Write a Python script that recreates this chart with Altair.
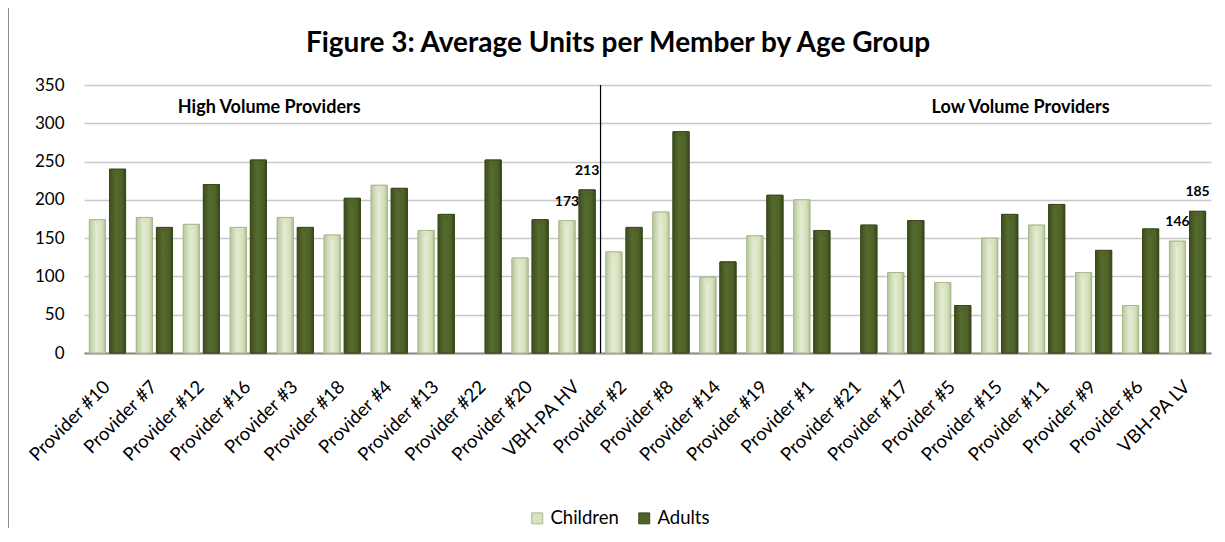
import altair as alt
import pandas as pd

categories = ["Provider #10", "Provider #7", "Provider #12", "Provider #16", "Provider #3",
              "Provider #18", "Provider #4", "Provider #13", "Provider #22", "Provider #20",
              "VBH-PA HV", "Provider #2", "Provider #8", "Provider #14", "Provider #19",
              "Provider #1", "Provider #21", "Provider #17", "Provider #5", "Provider #15",
              "Provider #11", "Provider #9", "Provider #6", "VBH-PA LV"]
children = [174, 177, 168, 164, 177, 154, 219, 160, None, 124, 173,
            132, 184, 99, 153, 200, None, 105, 92, 150, 167, 105, 62, 146]
adults = [240, 164, 220, 252, 164, 202, 215, 181, 252, 174, 213,
          164, 289, 119, 206, 160, 167, 173, 62, 181, 194, 134, 162, 185]
series = ["Children", "Adults"]
y_ticks = [0, 50, 100, 150, 200, 250, 300, 350]
labelled = ["VBH-PA HV", "VBH-PA LV"]
group_names = ["High Volume Providers", "Low Volume Providers"]
group_anchor = ["Provider #3", "Provider #11"]
group_y = [320, 320]
divider_at = ["Provider #2"]
title_text = "Figure 3: Average Units per Member by Age Group"

FONT = "Lato"
W, H = 1127, 268

rows = []
for c, ch, ad in zip(categories, children, adults):
    rows.append({"cat": c, "series": "Children", "value": ch})
    rows.append({"cat": c, "series": "Adults", "value": ad})
df = pd.DataFrame(rows)
lab_df = df[df["cat"].isin(labelled)].copy()
ann_df = pd.DataFrame({"cat": group_anchor, "text": group_names, "y": group_y})
div_df = pd.DataFrame({"cat": divider_at, "top": [350], "bot": [0]})

xscale = alt.Scale(domain=categories, paddingInner=0.23, paddingOuter=0.115)
xoff = alt.XOffset("series:N", scale=alt.Scale(domain=series, paddingInner=0.2), sort=series)
yscale = alt.Scale(domain=[0, 350])

x_axis = alt.Axis(title=None, labelAngle=-45, labelFontSize=18.5, labelFont=FONT,
                  labelColor="#000000", ticks=False, labelPadding=24, labelOffset=-7,
                  domainColor="#8c8c8c", domainWidth=2, grid=False)
y_axis = alt.Axis(title=None, values=y_ticks, labelFontSize=17, labelFont=FONT,
                  labelColor="#000000", labelOverlap=False, tickSize=0, labelPadding=20,
                  domain=False, gridColor="#c8c8c8", gridWidth=1.3)


def X(band=None):
    if band is None:
        return alt.X("cat:N", scale=xscale, sort=categories, axis=x_axis)
    return alt.X("cat:N", scale=xscale, sort=categories, axis=x_axis, bandPosition=band)


def Y(field="value:Q"):
    return alt.Y(field, scale=yscale, axis=y_axis)


border = alt.Chart(pd.DataFrame({"k": [0]})).mark_rect(
    fill="transparent", stroke="#8c8c8c", strokeWidth=2
).encode(x=alt.value(-76), y=alt.value(-78), x2=alt.value(W + 40), y2=alt.value(H + 240))

title = alt.Chart(pd.DataFrame({"t": [title_text]})).mark_text(
    font=FONT, fontSize=28, fontWeight="bold", color="#000000", baseline="middle", align="center"
).encode(x=alt.value(534), y=alt.value(-41), text="t:N")

base = alt.Chart(df).mark_bar(strokeWidth=1).encode(
    x=X(), y=Y(), xOffset=xoff,
    color=alt.Color("series:N", scale=alt.Scale(domain=series, range=["#d7e4bd", "#4f6228"]),
                    legend=alt.Legend(title=None, orient="none", direction="horizontal",
                                      legendX=444, legendY=424, symbolType="square",
                                      symbolSize=120, symbolStrokeColor="#8c8c8c",
                                      symbolStrokeWidth=1, labelFontSize=18.5, labelFont=FONT,
                                      labelColor="#000000", columnPadding=16, labelOffset=4)),
    stroke=alt.Stroke("series:N", scale=alt.Scale(domain=series, range=["#a9b98b", "#3a4a1c"]),
                      legend=None),
)

grad_c = alt.Gradient(gradient="linear", x1=0, x2=1, y1=0, y2=0, stops=[
    alt.GradientStop(color="#b9c89e", offset=0), alt.GradientStop(color="#e4edd3", offset=0.45),
    alt.GradientStop(color="#d3dfbb", offset=0.8), alt.GradientStop(color="#b3c196", offset=1)])
grad_a = alt.Gradient(gradient="linear", x1=0, x2=1, y1=0, y2=0, stops=[
    alt.GradientStop(color="#3e4e1e", offset=0), alt.GradientStop(color="#576b2e", offset=0.4),
    alt.GradientStop(color="#4d6027", offset=0.8), alt.GradientStop(color="#35441a", offset=1)])

over_c = alt.Chart(df).transform_filter(alt.datum.series == "Children").mark_bar(
    fill=grad_c, stroke="#a9b98b", strokeWidth=1).encode(x=X(), y=Y(), xOffset=xoff)
over_a = alt.Chart(df).transform_filter(alt.datum.series == "Adults").mark_bar(
    fill=grad_a, stroke="#3a4a1c", strokeWidth=1).encode(x=X(), y=Y(), xOffset=xoff)

caps = alt.Chart(df).mark_point(shape="triangle-down", filled=True, size=28, yOffset=4, opacity=1).encode(
    x=X(), y=Y(), xOffset=xoff,
    color=alt.Color("series:N", scale=alt.Scale(domain=series, range=["#ffffff", "#8fa45c"]), legend=None),
)

labels = alt.Chart(lab_df).mark_text(fontSize=14, fontWeight="bold", font=FONT, dy=-19,
                                     color="#000000").encode(
    x=X(), y=Y(), xOffset=xoff, text=alt.Text("value:Q"),
)

ann = alt.Chart(ann_df).mark_text(fontSize=18, fontWeight="bold", font=FONT, color="#000000",
                                  dx=-8).encode(
    x=X(0), y=Y("y:Q"), text="text:N",
)

divider = alt.Chart(div_df).mark_rule(color="#000000", strokeWidth=1.2, xOffset=-5.4).encode(
    x=X(0), y=Y("top:Q"), y2="bot:Q",
)

chart = alt.layer(base, border, title, over_c, over_a, caps, divider, labels, ann).properties(
    width=W, height=H,
    autosize=alt.AutoSizeParams(type="none"),
    padding={"left": 76, "top": 77, "right": 6, "bottom": 175},
    background="white",
).configure_view(stroke=None)

chart.save("out.html", embed_options={"renderer": "svg", "actions": False})
